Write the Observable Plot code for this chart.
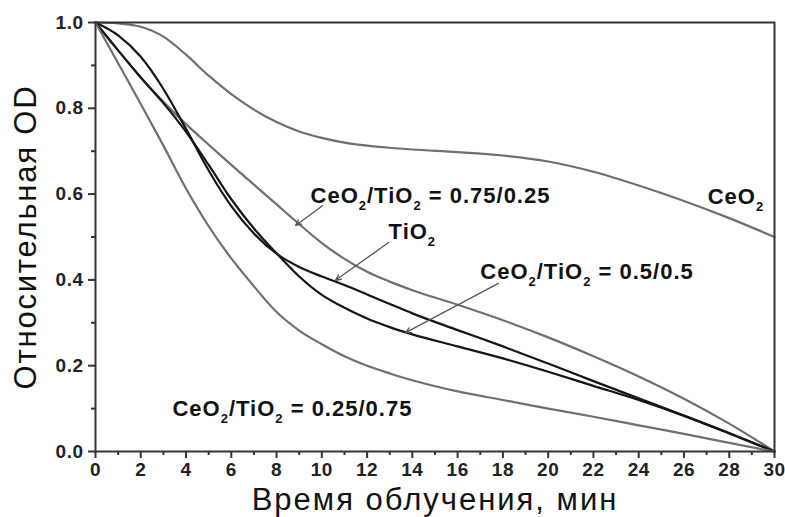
<!DOCTYPE html>
<html>
<head>
<meta charset="utf-8">
<script src="https://cdn.jsdelivr.net/npm/d3@7"></script>
<script src="https://cdn.jsdelivr.net/npm/@observablehq/plot@0.6"></script>
<style>
  html, body { margin: 0; padding: 0; background: #fff; }
  svg { display: block; }
  g[aria-label="text"] text { letter-spacing: 1px; }
  g[aria-label="y-axis tick label"] text, g[aria-label="x-axis tick label"] text { letter-spacing: 0.5px; }
</style>
</head>
<body>
<div id="chart"></div>
<script>
// time grid (min)
const time = [0,1,2,3,4,5,6,7,8,9,10,11,12,13,14,16,18,20,22,24,26,28,30];
// relative OD per sample
const ceo2      = [1,0.998,0.99,0.967,0.925,0.876,0.833,0.797,0.768,0.746,0.731,0.72,0.713,0.708,0.704,0.698,0.69,0.676,0.652,0.62,0.584,0.544,0.5];
const mix75_25  = [1,0.935,0.872,0.815,0.763,0.715,0.668,0.622,0.576,0.53,0.486,0.449,0.419,0.396,0.376,0.342,0.306,0.266,0.222,0.175,0.123,0.065,0];
const tio2      = [1,0.97,0.92,0.845,0.752,0.655,0.572,0.508,0.461,0.43,0.408,0.388,0.366,0.344,0.322,0.283,0.245,0.205,0.164,0.124,0.084,0.043,0];
const mix50_50  = [1,0.935,0.872,0.812,0.745,0.668,0.588,0.52,0.462,0.408,0.365,0.335,0.31,0.29,0.273,0.245,0.217,0.186,0.153,0.12,0.083,0.042,0];
const mix25_75  = [1,0.905,0.81,0.713,0.613,0.525,0.45,0.385,0.325,0.282,0.25,0.222,0.2,0.182,0.166,0.14,0.12,0.1,0.081,0.061,0.041,0.02,0];

const seriesNames  = ["CeO₂", "CeO₂/TiO₂ = 0.75/0.25", "TiO₂", "CeO₂/TiO₂ = 0.5/0.5", "CeO₂/TiO₂ = 0.25/0.75"];
const seriesValues = [ceo2, mix75_25, tio2, mix50_50, mix25_75];
const seriesColors = ["#6f6f6f", "#6f6f6f", "#151515", "#151515", "#6f6f6f"];

// annotation labels (data coords)
const labelText = seriesNames;
const labelX = [27.05, 9.5, 12.95, 17.0, 3.4];
const labelY = [0.594, 0.596, 0.512, 0.418, 0.1];
// pointer arrows: label -> curve
const arrowX1 = [10.03, 12.95, 17.8];
const arrowY1 = [0.573, 0.487, 0.392];
const arrowX2 = [8.84, 10.6, 13.7];
const arrowY2 = [0.527, 0.399, 0.277];

const xMajor = d3.range(0, 31, 2);
const xMinor = d3.range(1, 30, 2);
const yMajor = [0, 0.2, 0.4, 0.6, 0.8, 1.0];
const yMinor = [0.1, 0.3, 0.5, 0.7, 0.9];

const xTitle = "Время облучения, мин";
const yTitle = "Относительная OD";

const rows = [];
seriesNames.forEach((name, i) => {
  time.forEach((t, j) => rows.push({series: name, t, v: seriesValues[i][j], color: seriesColors[i]}));
});
const labels = labelText.map((s, i) => ({s, x: labelX[i], y: labelY[i]}));
const arrows = arrowX1.map((x1, i) => ({x1, y1: arrowY1[i], x2: arrowX2[i], y2: arrowY2[i]}));

const axisColor = "#333";
const chart = Plot.plot({
  width: 785,
  height: 517,
  marginLeft: 95,
  marginRight: 11,
  marginTop: 22,
  marginBottom: 66,
  style: {fontFamily: "'Liberation Sans', Arial, sans-serif", background: "#fff", color: "#222"},
  x: {domain: [0, 30]},
  y: {domain: [0, 1]},
  marks: [
    Plot.axisX(xMajor, {tickSize: 7, strokeWidth: 2, stroke: axisColor, tickPadding: 4, fontSize: 19, fontWeight: "bold", label: null, tickFormat: d => String(d)}),
    Plot.axisX(xMinor, {tickSize: 4, strokeWidth: 2, stroke: axisColor, label: null, tickFormat: () => ""}),
    Plot.axisY(yMajor, {tickSize: 7, strokeWidth: 2, stroke: axisColor, tickPadding: 5, fontSize: 19, fontWeight: "bold", label: null, tickFormat: d3.format(".1f")}),
    Plot.axisY(yMinor, {tickSize: 4, strokeWidth: 2, stroke: axisColor, label: null, tickFormat: () => ""}),
    Plot.line(rows, {x: "t", y: "v", z: "series", stroke: "color", strokeWidth: 2.2, curve: "monotone-x"}),
    Plot.arrow(arrows, {x1: "x1", y1: "y1", x2: "x2", y2: "y2", stroke: "#555", strokeWidth: 1.3, headLength: 7, headAngle: 50}),
    Plot.text(labels, {x: "x", y: "y", text: "s", textAnchor: "start", fontSize: 22, fontWeight: "bold", fill: "#111"}),
    Plot.text([xTitle], {frameAnchor: "bottom", lineAnchor: "middle", textAnchor: "middle", dy: 49, fontSize: 31, fill: "#111"}),
    Plot.text([yTitle], {frameAnchor: "left", lineAnchor: "middle", textAnchor: "middle", dx: -69, rotate: -90, fontSize: 31, fill: "#111"}),
    Plot.frame({stroke: axisColor, strokeWidth: 2})
  ]
});

// render chemical subscripts as real text tspans
const ns = "http://www.w3.org/2000/svg";
chart.querySelectorAll("text").forEach(t => {
  const s = t.textContent;
  if (!s.includes("₂")) return;
  const parts = s.split("₂");
  while (t.firstChild) t.removeChild(t.firstChild);
  parts.forEach((p, i) => {
    if (p || i > 0) {
      const a = document.createElementNS(ns, "tspan");
      a.textContent = p;
      if (i > 0) a.setAttribute("dy", "-7");
      t.appendChild(a);
    }
    if (i < parts.length - 1) {
      const b = document.createElementNS(ns, "tspan");
      b.textContent = "2";
      b.setAttribute("font-size", "13");
      b.setAttribute("dy", "7");
      t.appendChild(b);
    }
  });
});
// wider tracking for axis titles
chart.querySelectorAll("text").forEach(t => {
  if (t.textContent === xTitle) t.style.letterSpacing = "2px";
  if (t.textContent === yTitle) t.style.letterSpacing = "1.8px";
});

document.getElementById("chart").appendChild(chart);
</script>
</body>
</html>
